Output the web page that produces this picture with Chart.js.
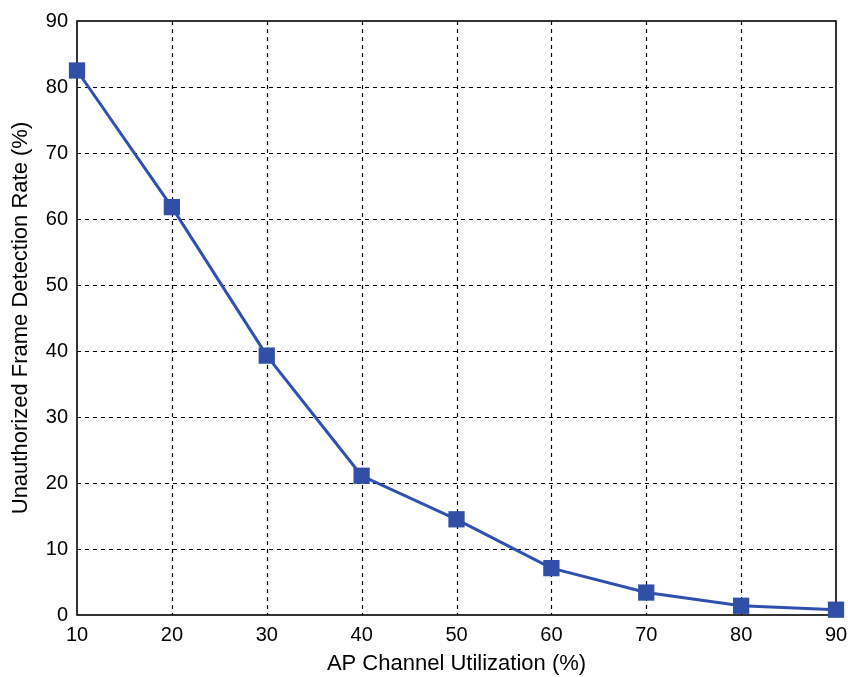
<!DOCTYPE html>
<html><head><meta charset="utf-8">
<script src="https://cdn.jsdelivr.net/npm/chart.js@4/dist/chart.umd.min.js"></script>
<style>html,body{margin:0;padding:0;background:#fff}#wrap{width:848px;height:677px}</style>
</head><body><div id="wrap"><canvas id="c" width="848" height="677"></canvas></div>
<script>
const utilization = [10, 20, 30, 40, 50, 60, 70, 80, 90];
const detectionRate = [82.5, 61.8, 39.3, 21.1, 14.5, 7.1, 3.4, 1.4, 0.8];
const xTicks = [10, 20, 30, 40, 50, 60, 70, 80, 90];
const yTicks = [0, 10, 20, 30, 40, 50, 60, 70, 80, 90];
const xTitle = 'AP Channel Utilization (%)';
const yTitle = 'Unauthorized Frame Detection Rate (%)';

const font = {family: 'Liberation Sans, Arial, sans-serif', size: 20};
const titleFont = {family: 'Liberation Sans, Arial, sans-serif', size: 22};
new Chart(document.getElementById('c'), {
  type: 'line',
  data: {datasets: [{
    data: utilization.map((x, i) => ({x, y: detectionRate[i]})),
    borderColor: '#3050b0', backgroundColor: '#3050a8', borderWidth: 3,
    pointStyle: 'rect', pointRadius: 11.5, pointHoverRadius: 11.5, pointBorderWidth: 0,
    tension: 0, clip: false
  }]},
  options: {
    responsive: false, animation: false,
    layout: {padding: {top: 18, right: 0, left: 0, bottom: 0}},
    plugins: {legend: {display: false}, tooltip: {enabled: false}},
    scales: {
      x: {type: 'linear', min: 10, max: 90,
        afterBuildTicks: s => { s.ticks = xTicks.map(v => ({value: v})); },
        afterFit: s => { s.height = 62; s.paddingRight = 12; s.paddingLeft = 0; },
        ticks: {color: '#000', font, padding: 8, maxRotation: 0},
        grid: {display: false, drawTicks: false}, border: {display: false},
        title: {display: true, text: xTitle, color: '#000', font: titleFont, padding: {top: 0, bottom: 0}}
      },
      y: {min: 0, max: 90,
        afterBuildTicks: s => { s.ticks = yTicks.map(v => ({value: v})); },
        afterFit: s => { s.width = 77; },
        ticks: {color: '#000', font, padding: 9},
        grid: {display: false, drawTicks: false}, border: {display: false},
        title: {display: true, text: yTitle, color: '#000', font: titleFont, padding: {top: 8, bottom: 0}}
      }
    }
  },
  plugins: [{
    id: 'frame',
    beforeDatasetsDraw(chart) {
      const {ctx, chartArea: a, scales} = chart;
      ctx.save();
      ctx.strokeStyle = '#000'; ctx.lineWidth = 1.2; ctx.setLineDash([4, 4]);
      ctx.beginPath();
      xTicks.slice(1, -1).forEach(v => { const x = Math.round(scales.x.getPixelForValue(v)) + 0.5; ctx.moveTo(x, a.top); ctx.lineTo(x, a.bottom); });
      yTicks.slice(1, -1).forEach(v => { const y = Math.round(scales.y.getPixelForValue(v)) + 0.5; ctx.moveTo(a.left, y); ctx.lineTo(a.right, y); });
      ctx.stroke();
      ctx.setLineDash([]); ctx.lineWidth = 1.6;
      ctx.strokeRect(a.left, a.top, a.right - a.left, a.bottom - a.top);
      ctx.restore();
    }
  }]
});
</script>
</body></html>
